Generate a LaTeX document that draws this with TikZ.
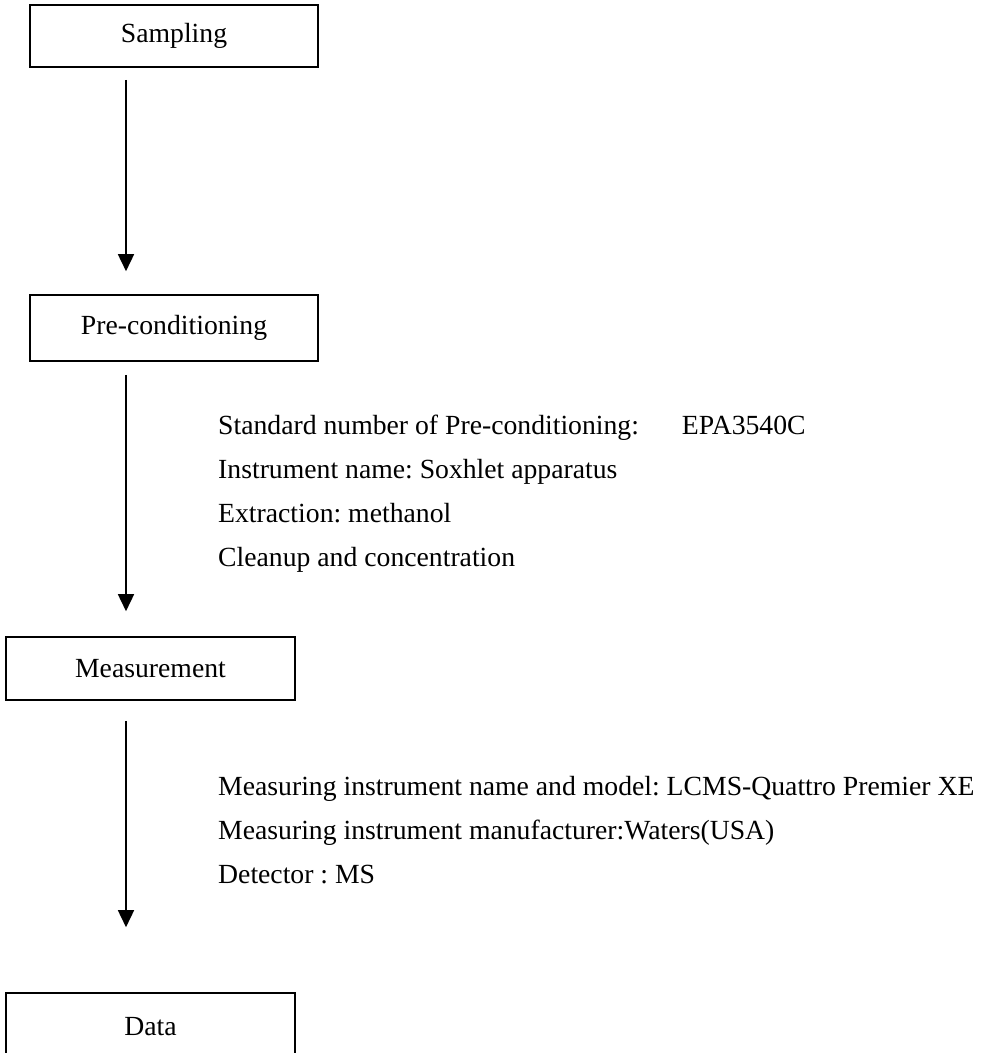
\documentclass[tikz,border=0pt]{standalone}
\usepackage{fontspec}
\setmainfont{Liberation Serif}
\usetikzlibrary{arrows.meta,positioning}
\newcommand{\bigtext}{\fontsize{27.7}{33}\selectfont}
\frenchspacing

\begin{document}
\begin{tikzpicture}[x=1pt, y=-1pt,
    stagebox/.style = {rectangle, draw, line width=1.6pt, minimum width=288pt, minimum height=62pt, inner sep=0pt, font=\bigtext},
    infoline/.style = {anchor=base west, inner sep=0pt, font=\bigtext},
    flow/.style = {-{Triangle[length=17pt, width=16pt]}, line width=1.6pt},
    ]
        \useasboundingbox (0,0) rectangle (984,1053);
        \clip (0,0) rectangle (984,1053);

        % Nodes
        \node[stagebox] (sampling) at (174,36) {Sampling};
        \node[stagebox, minimum height=66pt] (precond) at (174,328) {Pre-conditioning};
        \node[stagebox, minimum width=289pt, minimum height=63pt] (measure) at (150.5,668.5) {Measurement};
        \node[stagebox, minimum width=289pt, minimum height=68pt] (data) at (150.5,1027) {Data};
        %
        \node[infoline] (stdno) at (218,434) {Standard number of Pre-conditioning:\hspace{1.3em} EPA3540C};
        \node[infoline] (instr) at (218,478) {Instrument name: Soxhlet apparatus};
        \node[infoline] (extract) at (218,522) {Extraction: methanol};
        \node[infoline] (cleanup) at (218,566) {Cleanup and concentration};
        %
        \node[infoline] (model) at (218,795) {Measuring instrument name and model: LCMS-Quattro Premier XE};
        \node[infoline] (maker) at (218,839) {Measuring instrument manufacturer:Waters(USA)};
        \node[infoline] (detector) at (218,883) {Detector : MS};
        %
        \coordinate (spine) at (126,0);

        % Draw
        \draw[flow, shorten <=12pt, shorten >=23pt] (sampling.south -| spine) -- (precond.north -| spine);
        \draw[flow, shorten <=13pt, shorten >=25pt] (precond.south -| spine) -- (measure.north -| spine);
        \draw[flow, shorten <=20pt, shorten >=65pt] (measure.south -| spine) -- (data.north -| spine);
    \end{tikzpicture}
\end{document}
